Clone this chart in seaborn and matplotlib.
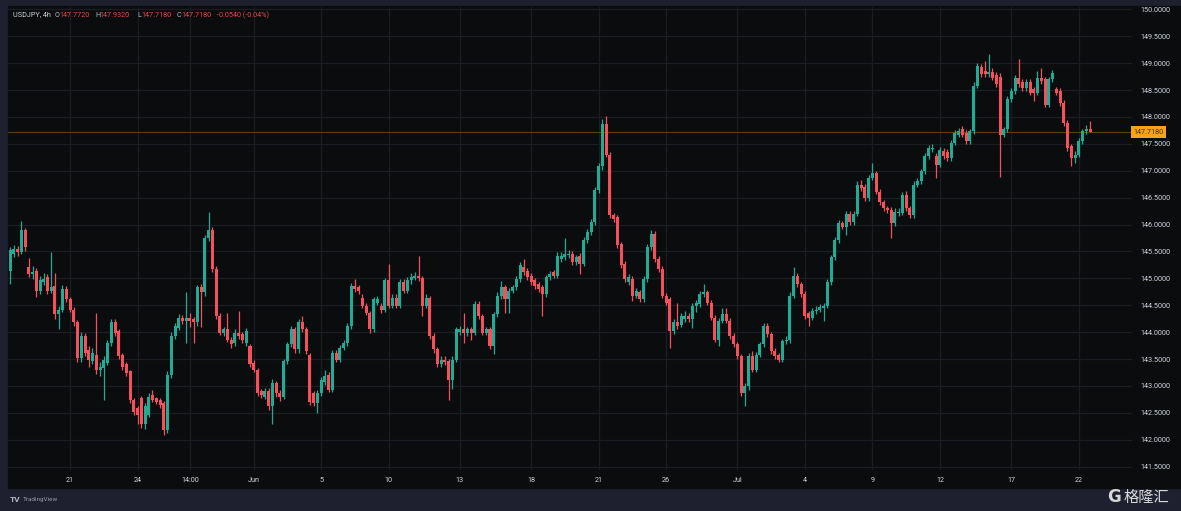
import numpy as np
import pandas as pd
import matplotlib
matplotlib.use("Agg")
import matplotlib.pyplot as plt
from matplotlib.patches import Rectangle
import seaborn as sns

# ---------------- data (USDJPY 4h candles) ----------------
opens = [
145.14,145.45,145.55,145.48,145.89,145.21,145.08,145.14,144.77,144.93,
145.02,144.77,144.86,144.33,144.42,144.80,144.61,144.42,144.18,143.52,
143.93,143.66,143.46,143.58,143.30,143.33,143.43,143.80,144.18,144.02,
143.58,143.40,143.27,142.74,142.58,142.77,142.30,142.46,142.83,142.77,
142.74,142.68,142.18,143.21,143.93,144.08,144.27,144.21,144.26,144.24,
144.18,144.83,144.74,145.74,145.89,145.17,144.30,143.99,144.05,143.86,
143.80,143.99,143.96,143.80,143.74,143.43,143.30,142.90,142.80,142.90,
142.62,143.05,142.87,142.79,143.46,143.77,144.05,143.68,144.18,144.05,
143.58,142.87,142.68,142.87,143.08,143.21,142.93,143.61,143.49,143.71,
143.80,144.11,144.86,144.83,144.64,144.49,144.36,144.05,144.55,144.49,
144.42,144.96,144.49,144.64,144.49,144.93,144.77,144.96,145.00,145.05,
145.00,144.49,144.64,143.93,143.68,143.40,143.49,143.46,143.11,143.49,
144.00,144.05,143.99,144.05,143.99,144.52,144.30,143.99,144.05,143.74,
144.33,144.68,144.83,144.61,144.77,144.83,144.99,145.21,145.14,145.05,
144.96,144.89,144.83,144.71,145.02,145.11,145.05,145.36,145.39,145.43,
145.46,145.30,145.42,145.27,145.71,145.86,146.05,146.64,147.08,147.86,
147.30,146.17,146.14,145.64,145.27,144.93,144.99,144.68,144.74,144.61,
144.99,145.58,145.83,145.36,145.17,144.68,144.61,144.02,144.18,144.14,
144.24,144.30,144.24,144.49,144.52,144.71,144.74,144.55,144.27,143.86,
144.21,144.33,144.21,143.93,143.77,143.55,142.87,142.99,143.55,143.30,
143.58,143.77,144.11,143.96,143.65,143.58,143.49,143.83,143.86,144.68,
145.05,144.89,144.71,144.36,144.27,144.39,144.42,144.44,144.49,144.93,
145.39,145.71,146.02,145.96,146.20,146.05,146.20,146.74,146.70,146.49,
146.86,146.95,146.61,146.42,146.30,146.27,146.02,146.21,146.22,146.55,
146.30,146.17,146.74,146.80,146.99,147.27,147.40,147.27,147.11,147.36,
147.34,147.23,147.52,147.67,147.77,147.70,147.55,147.73,148.58,148.92,
148.86,148.80,148.83,148.78,148.75,147.67,147.77,148.33,148.48,148.73,
148.64,148.54,148.64,148.51,148.45,148.73,148.70,148.23,148.70,148.51,
148.48,148.26,147.89,147.45,147.23,147.30,147.55,147.73,147.772]
highs = [
145.58,145.62,145.60,146.06,145.93,145.38,145.22,145.20,145.05,145.10,
145.08,145.49,145.10,144.48,144.88,144.85,144.66,144.46,144.22,144.00,
143.98,143.74,143.70,144.35,143.45,143.55,143.86,144.25,144.24,144.06,
143.62,143.44,143.30,142.78,142.62,142.82,142.68,142.87,142.92,142.80,
142.78,142.72,143.28,144.00,144.16,144.33,144.32,144.74,144.35,144.28,
144.88,144.90,145.80,146.24,145.95,145.22,144.36,144.10,144.35,143.90,
144.05,144.40,144.00,144.08,143.78,143.48,143.34,142.95,142.96,142.96,
143.12,143.10,142.92,143.50,143.82,144.12,144.10,144.24,144.30,144.10,
143.62,142.90,142.92,143.16,143.30,143.26,143.66,143.66,143.76,143.85,
144.16,144.92,144.98,144.88,144.70,144.54,144.40,144.66,144.68,144.55,
145.00,145.27,144.70,144.70,144.98,144.98,145.02,145.10,145.12,145.42,
145.05,144.70,144.68,143.98,143.72,143.55,143.56,143.50,143.55,144.10,
144.12,144.35,144.10,144.10,144.58,144.58,144.34,144.10,144.10,144.38,
144.74,144.95,144.88,144.82,144.88,145.04,145.30,145.35,145.20,145.10,
145.00,144.94,144.88,145.06,145.14,145.16,145.48,145.48,145.74,145.52,
145.50,145.44,145.47,145.76,145.91,146.10,146.70,147.14,147.96,148.01,
147.35,146.22,146.18,145.68,145.32,145.08,145.04,144.82,144.79,145.04,
145.63,145.90,145.88,145.41,145.22,144.73,144.66,144.24,144.55,144.36,
144.40,144.35,144.54,144.60,144.76,144.89,144.79,144.60,144.32,144.26,
144.45,144.45,144.26,143.98,143.82,143.60,143.05,143.62,143.64,143.63,
143.82,144.16,144.16,144.00,143.70,143.62,143.88,143.92,144.74,145.21,
145.10,144.94,144.76,144.40,144.44,144.48,144.52,144.54,144.98,145.44,
145.76,146.08,146.07,146.26,146.25,146.26,146.80,146.82,146.75,146.92,
147.14,147.00,146.66,146.46,146.34,146.32,146.30,146.30,146.60,146.62,
146.35,146.80,146.86,147.04,147.32,147.48,147.50,147.32,147.44,147.42,
147.40,147.57,147.76,147.80,147.84,147.75,147.78,148.64,149.00,148.98,
149.04,149.17,148.90,148.84,148.82,147.82,148.38,148.54,148.78,149.08,
148.70,148.70,148.70,148.56,148.85,148.90,148.75,148.75,148.88,148.56,
148.53,148.32,147.94,147.50,147.36,147.60,147.78,147.85,147.932]
lows = [
144.90,145.40,145.42,145.45,145.50,145.02,144.98,144.65,144.70,144.88,
144.70,144.72,144.25,144.05,144.38,144.56,144.38,144.12,143.45,143.45,
143.55,143.35,143.40,143.22,143.18,142.73,143.38,143.75,143.93,143.50,
143.30,143.18,142.68,142.45,142.30,142.22,142.20,142.42,142.70,142.66,
142.58,142.08,142.12,143.15,143.88,144.03,144.15,143.80,144.10,143.80,
144.12,144.10,144.68,145.70,145.12,144.25,143.94,143.92,143.82,143.70,
143.75,143.88,143.80,143.75,143.35,143.25,142.82,142.78,142.75,142.56,
142.30,142.80,142.72,142.75,143.40,143.72,143.62,143.62,144.00,143.60,
142.65,142.62,142.49,142.82,143.02,142.88,142.88,143.44,143.44,143.66,
143.75,144.06,144.75,144.70,144.44,144.31,143.98,144.00,144.50,144.36,
144.38,144.44,144.44,144.44,144.44,144.72,144.72,144.90,144.96,144.95,
144.30,144.44,143.88,143.62,143.35,143.35,143.38,142.74,142.95,143.44,
143.95,143.80,143.92,143.85,143.94,144.25,143.94,143.94,143.68,143.60,
144.28,144.62,144.36,144.35,144.72,144.78,144.94,145.06,144.97,144.88,
144.81,144.75,144.30,144.66,144.97,145.00,145.00,145.31,145.34,145.38,
145.25,145.25,145.08,145.22,145.66,145.81,146.00,146.58,147.02,147.25,
146.12,146.05,145.56,145.19,144.94,144.88,144.58,144.63,144.56,144.56,
144.94,145.53,145.31,145.12,144.63,144.50,143.71,143.96,144.06,144.09,
144.19,144.19,144.08,144.38,144.47,144.66,144.50,144.22,143.81,143.74,
144.16,144.16,143.88,143.72,143.50,142.82,142.62,142.92,143.25,143.25,
143.53,143.72,143.91,143.60,143.50,143.44,143.44,143.78,143.80,144.63,
144.84,144.66,144.25,144.12,144.22,144.34,144.37,144.20,144.44,144.88,
145.34,145.66,145.91,145.80,146.00,146.00,146.15,146.62,146.44,146.44,
146.82,146.56,146.37,146.25,146.22,145.74,145.97,146.16,146.17,146.25,
146.12,146.12,146.69,146.75,146.94,147.22,147.35,146.86,147.06,147.22,
147.18,147.18,147.47,147.62,147.62,147.50,147.50,147.68,148.53,148.75,
148.74,148.74,148.68,148.56,146.89,147.62,147.72,148.28,148.43,148.56,
148.49,148.49,148.40,148.30,148.40,148.62,148.18,148.18,148.65,148.40,
148.21,147.84,147.37,147.08,147.15,147.25,147.50,147.68,147.718]
closes = [
145.52,145.55,145.48,145.89,145.58,145.08,145.12,144.77,144.96,144.99,
144.77,144.83,144.33,144.42,144.80,144.61,144.42,144.18,143.52,143.93,
143.61,143.49,143.61,143.30,143.36,143.49,143.80,144.18,143.99,143.55,
143.36,143.24,142.74,142.52,142.46,142.30,142.62,142.80,142.74,142.71,
142.65,142.18,143.21,143.93,144.11,144.27,144.21,144.26,144.21,144.18,
144.83,144.74,145.74,145.89,145.17,144.30,143.99,144.05,143.86,143.77,
143.99,143.93,143.86,144.02,143.40,143.30,142.87,142.83,142.90,142.62,
143.05,142.87,142.79,143.46,143.77,144.05,143.68,144.18,144.05,143.65,
142.71,142.68,142.87,143.11,143.18,142.93,143.61,143.49,143.71,143.80,
144.11,144.86,144.80,144.77,144.49,144.36,144.05,144.61,144.61,144.42,
144.96,144.49,144.64,144.49,144.93,144.77,144.96,145.02,145.05,145.00,
144.49,144.64,143.93,143.68,143.40,143.49,143.45,143.11,143.49,144.05,
144.05,143.99,144.05,143.99,144.52,144.30,143.99,144.05,143.74,144.33,
144.68,144.83,144.61,144.76,144.83,144.99,145.24,145.11,145.02,144.93,
144.86,144.80,144.71,145.02,145.08,145.05,145.42,145.42,145.45,145.46,
145.30,145.39,145.27,145.71,145.86,146.05,146.64,147.08,147.86,147.30,
146.17,146.11,145.61,145.24,144.99,145.02,144.68,144.77,144.61,144.99,
145.58,145.83,145.36,145.17,144.68,144.55,144.02,144.18,144.11,144.30,
144.30,144.24,144.49,144.55,144.71,144.74,144.55,144.27,143.86,144.21,
144.33,144.21,143.93,143.77,143.55,142.87,142.99,143.55,143.30,143.58,
143.77,144.11,143.96,143.65,143.55,143.49,143.83,143.86,144.68,145.05,
144.89,144.71,144.30,144.27,144.39,144.42,144.46,144.49,144.93,145.39,
145.71,146.02,145.96,146.20,146.05,146.20,146.74,146.67,146.49,146.86,
146.95,146.61,146.42,146.30,146.27,146.02,146.24,146.24,146.55,146.30,
146.17,146.74,146.80,146.99,147.27,147.42,147.42,147.11,147.39,147.27,
147.23,147.52,147.70,147.73,147.67,147.55,147.73,148.58,148.95,148.80,
148.80,148.83,148.73,148.61,147.67,147.77,148.33,148.48,148.73,148.61,
148.54,148.64,148.45,148.45,148.73,148.67,148.23,148.70,148.81,148.45,
148.26,147.89,147.42,147.23,147.30,147.55,147.73,147.77,147.718]

x_tick_labels = ["21", "24", "14:00", "Jun", "5", "10", "13", "18", "21",
                 "26", "Jul", "4", "9", "12", "17", "22"]
x_tick_bars = [16, 34, 48, 65, 83, 101, 120, 139, 157, 175, 194, 212, 230, 248, 267, 285]
price_ticks = [141.5, 142.0, 142.5, 143.0, 143.5, 144.0, 144.5, 145.0, 145.5,
               146.0, 146.5, 147.0, 147.5, 148.0, 148.5, 149.0, 149.5, 150.0]
last_price = 147.718
header_symbol = "USDJPY, 4h"
header_fields = [("O", "147.7720"), ("H", "147.9320"), ("L", "147.7180"), ("C", "147.7180")]
header_change = "-0.0540 (-0.04%)"

# ---------------- styling ----------------
UP = "#22ab94"
DOWN = "#f5515c"
CHART_BG = "#0a0c0e"
FRAME_BG = "#1e2030"
GRID = "#1a1d24"
TEXT = "#d1d4dc"

sns.set_theme(style="dark", rc={
    "axes.facecolor": CHART_BG,
    "figure.facecolor": FRAME_BG,
    "axes.edgecolor": CHART_BG,
    "grid.color": GRID,
})
plt.rcParams["font.family"] = ["Roboto", "Noto Sans CJK SC", "DejaVu Sans"]

df = pd.DataFrame({"open": opens, "high": highs, "low": lows, "close": closes})
df["bar"] = np.arange(len(df))
df["up"] = df["close"] >= df["open"]
df["color"] = np.where(df["up"], UP, DOWN)
df["body_lo"] = df[["open", "close"]].min(axis=1)
df["body_h"] = (df["close"] - df["open"]).abs().clip(lower=0.025)

W, H = 1181, 511
fig = plt.figure(figsize=(W / 100, H / 100), dpi=100)

def fx(px):
    return px / W

def fy(py):
    return 1 - py / H

# dark working area (chart + axis strips), behind the axes
fig.patches.append(Rectangle((fx(8), fy(488)), fx(1181 - 8), (488 - 6) / H,
                             transform=fig.transFigure, color=CHART_BG, zorder=-10))

ax_top, ax_bot, ax_left, ax_right = 7, 470, 8, 1132
ax = fig.add_axes([fx(ax_left), fy(ax_bot), (ax_right - ax_left) / W, (ax_bot - ax_top) / H])
ax.set_zorder(2)
ax.set_facecolor(CHART_BG)

# grid
for b in x_tick_bars:
    ax.axvline(b, color=GRID, lw=0.9, zorder=1)
for p in price_ticks:
    ax.axhline(p, color=GRID, lw=0.9, zorder=1)

# last price line
ax.axhline(last_price, color="#5e3e14", lw=0.8, zorder=2)

# candles
ax.vlines(df["bar"], df["low"], df["high"], colors=df["color"], lw=0.9, zorder=3)
ax.bar(df["bar"], df["body_h"], bottom=df["body_lo"], width=0.8,
       color=df["color"], linewidth=0, zorder=4)

px_per_unit = 53.8
ax.set_ylim(150 - (ax_bot - 9.3) / px_per_unit, 150 + (9.3 - ax_top) / px_per_unit)
ax.set_xlim((ax_left - 10) / 3.75, (ax_right - 10) / 3.75)

ax.yaxis.tick_right()
ax.set_yticks(price_ticks)
ax.set_yticklabels([f"{p:.4f}" for p in price_ticks], fontsize=5.2, color=TEXT)
ax.set_xticks(x_tick_bars)
ax.set_xticklabels(x_tick_labels, fontsize=5.2, color=TEXT)
ax.tick_params(axis="both", length=0)
ax.tick_params(axis="y", pad=6)
ax.tick_params(axis="x", pad=5)
ax.grid(False)
for s in ax.spines.values():
    s.set_visible(False)

# last price tag
ax.annotate("147.7180", xy=(1.0, last_price), xycoords=("axes fraction", "data"),
            xytext=(1, 0), textcoords="offset points", ha="left", va="center",
            fontsize=5.2, color="#4a3000",
            bbox=dict(boxstyle="square,pad=0.35", fc="#f7a21b", ec="none"),
            annotation_clip=False, zorder=10)

# header legend
hy = fy(15)
fig.text(fx(13), hy, header_symbol, fontsize=5.2, color="#d1d4dc", va="center", zorder=5)
hx = [55, 95, 137, 177]
for (k, v), x0 in zip(header_fields, hx):
    fig.text(fx(x0), hy, k, fontsize=5.2, color="#b2b5be", va="center", zorder=5)
    fig.text(fx(x0 + 4), hy, v, fontsize=5.2, color="#e0474f", va="center", zorder=5)
fig.text(fx(217), hy, header_change, fontsize=5.2, color="#e0474f", va="center", zorder=5)

# TradingView logo (bottom-left)
fig.text(fx(10), fy(500), "TV", fontsize=6, color="#b2b5be", va="center", fontweight="bold")
fig.text(fx(23), fy(500), "TradingView", fontsize=4.6, color="#9598a1", va="center")

# watermark (bottom-right)
fig.text(fx(1107), fy(497), "G", fontsize=12, color="#d8d8d8", va="center",
         fontweight="bold", family=["DejaVu Sans"], zorder=6)
fig.text(fx(1124), fy(497), "格隆汇", fontsize=11, color="#d8d8d8", va="center",
         family=["Noto Sans CJK SC", "DejaVu Sans"], zorder=6)

fig.savefig("out.png", dpi=100, facecolor=FRAME_BG)
